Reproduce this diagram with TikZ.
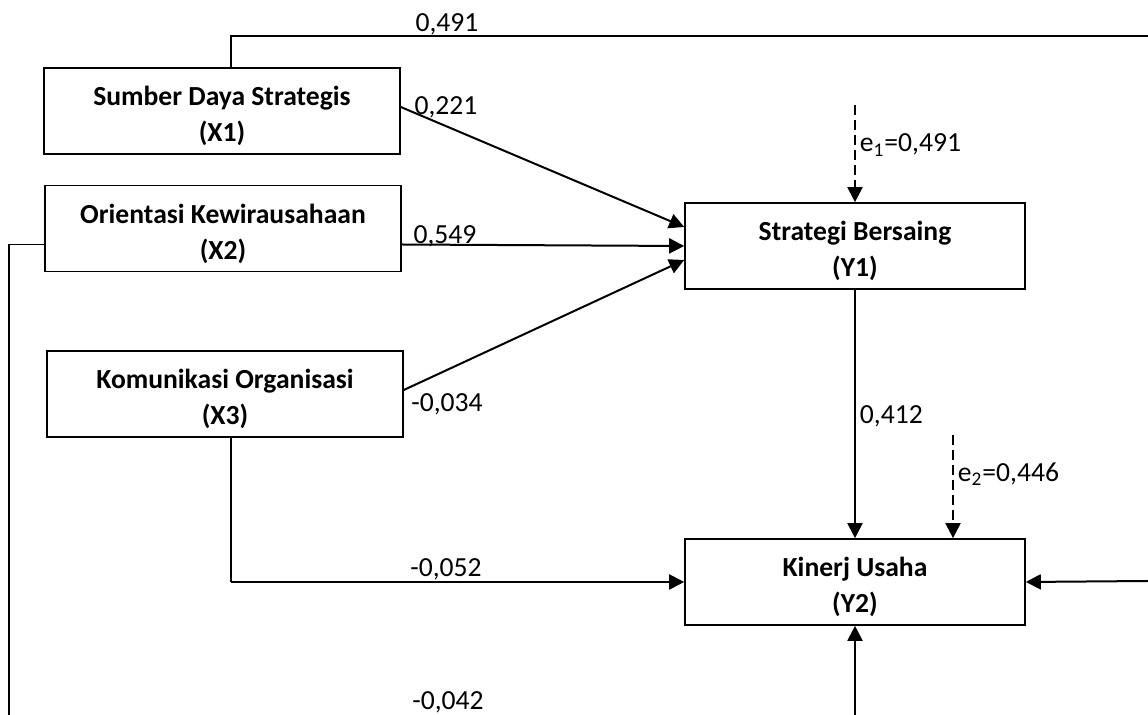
\documentclass[tikz,border=0pt]{standalone}
\usepackage{fontspec}
\setmainfont{Carlito}
\usetikzlibrary{arrows.meta}
\newcommand\topstrut{\rule{0pt}{15pt}}

\begin{document}
\begin{tikzpicture}[x=0.5pt,y=-0.5pt,>={Triangle[length=7.5pt,width=7.5pt]},
                    line width=0.9pt]
  \tikzstyle{varbox}=[draw,line width=0.8pt,minimum width=178pt,minimum height=43pt,
                      inner sep=1pt,align=center,font={\bfseries\fontsize{13.8}{18}\selectfont}]
  \tikzstyle{coef}=[inner sep=0pt,font={\fontsize{13.8}{16}\selectfont}]
  \tikzstyle{link}=[->,line width=1pt]
  \tikzstyle{errlink}=[->,line width=1pt,dash pattern=on 5pt off 2.5pt]
  \tikzstyle{thinlink}=[line width=0.6pt]

  \useasboundingbox (0,0) rectangle (1148,715);

  \node[varbox] (X1) at (222,111)   {\topstrut Sumber Daya Strategis\\(X1)};
  \node[varbox] (X2) at (223,228.5) {\topstrut Orientasi Kewirausahaan\\(X2)};
  \node[varbox] (X3) at (225,394)   {\topstrut Komunikasi Organisasi\\(X3)};
  \node[varbox,minimum width=170pt] (Y1) at (855,246) {\topstrut Strategi Bersaing\\(Y1)};
  \node[varbox,minimum width=170pt] (Y2) at (855,582) {\topstrut Kinerj Usaha\\(Y2)};

  \coordinate (topR) at (1148,36);
  \coordinate (leftB) at (9,715);
  \coordinate (rightIn) at (1148,581);
  \coordinate (bottomIn) at (855,715);
  \coordinate (e1) at (855,105);
  \coordinate (e2) at (953,435);

  % paths into Y1
  \draw[thinlink] ([xshift=4.5pt]X1.north) |- (topR);
  \draw[link] ([yshift=2pt]X1.east) -- ([yshift=9.5pt]Y1.west);
  \draw[link] ([yshift=-8pt]X2.east) -- (Y1.west);
  \draw[link] ([yshift=2pt]X3.east) -- ([yshift=-7pt]Y1.west);
  \draw[errlink] (e1) -- (Y1.north);

  % paths into Y2
  \draw[link] (Y1.south) -- (Y2.north);
  \draw[errlink] (e2) -- (e2 |- Y2.north);
  \draw[thinlink] ([xshift=3pt]X3.south) -- ([xshift=3pt]X3.south |- Y2.west);
  \draw[link] ([xshift=3pt]X3.south |- Y2.west) -- (Y2.west);
  \draw[link] (rightIn) -- (Y2.east);
  \draw[link] (bottomIn) -- (Y2.south);
  \draw[thinlink] ([yshift=-8pt]X2.west) -| (leftB);

  % coefficients
  \node[coef] (c1) at (447,24)  {0,491};
  \node[coef] (c2) at (446,107) {0,221};
  \node[coef] (c3) at (445,236) {0,549};
  \node[coef] (c4) at (447,404) {-0,034};
  \node[coef] (c5) at (446,569) {-0,052};
  \node[coef] (c6) at (448,702) {-0,042};
  \node[coef,anchor=west] (c7) at (859,416) {0,412};
  \node[coef,anchor=west] (r1) at (859,145) {e\textsubscript{1}=0,491};
  \node[coef,anchor=west] (r2) at (957,474) {e\textsubscript{2}=0,446};
\end{tikzpicture}
\end{document}
